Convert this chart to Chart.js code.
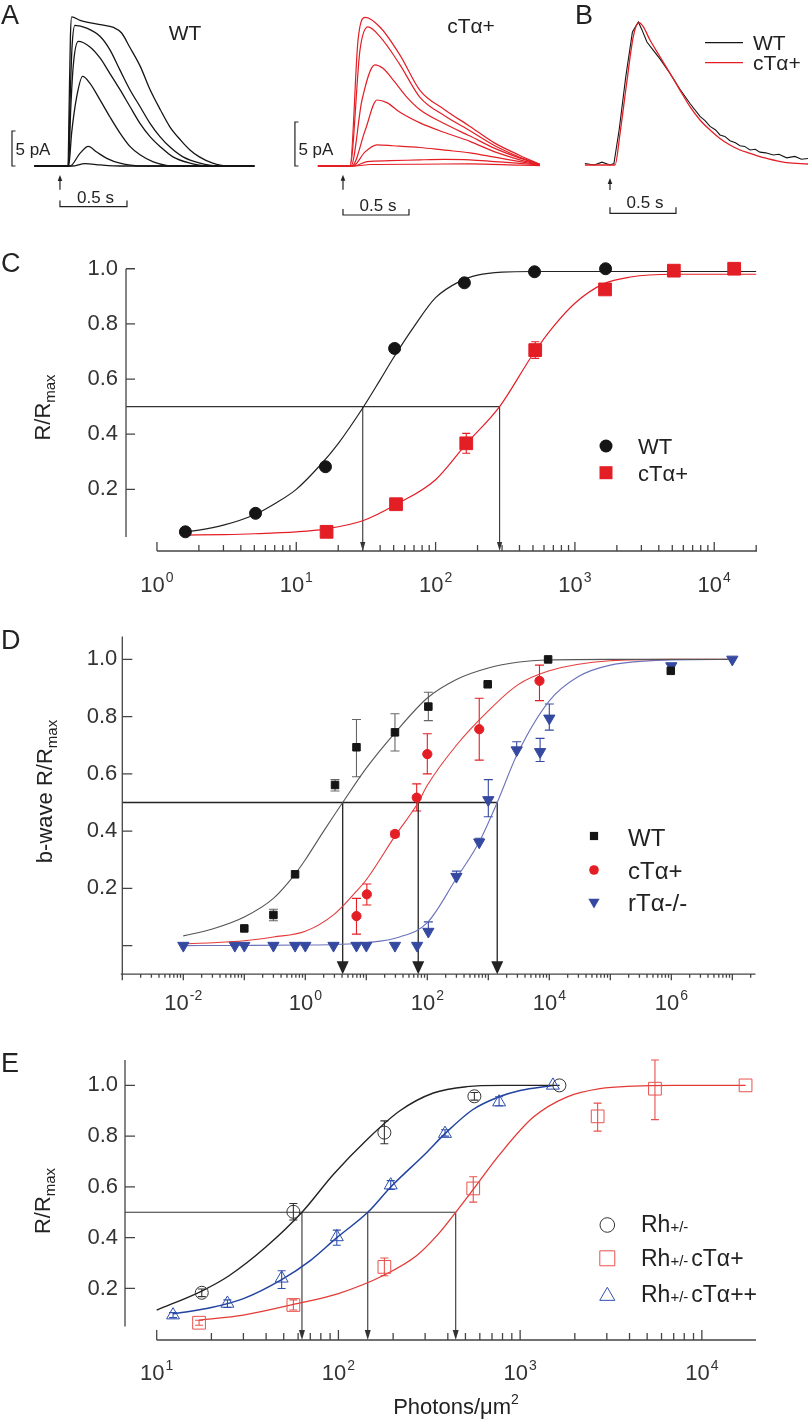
<!DOCTYPE html>
<html><head><meta charset="utf-8">
<script src="https://cdn.jsdelivr.net/npm/chart.js@4.4.1/dist/chart.umd.min.js"></script>
<style>
html,body{margin:0;padding:0;background:#fff;}
#wrap{position:relative;width:812px;height:1420px;overflow:hidden;background:#fff;}
canvas{position:absolute;left:0;}
.lbl{position:absolute;font-family:"Liberation Sans",Arial,sans-serif;font-size:27px;line-height:27px;color:#222;}
</style></head><body>
<div id="wrap">
<canvas id="cA1" width="812" height="230" style="top:0px"></canvas>
<canvas id="cA2" width="812" height="230" style="top:0px"></canvas>
<canvas id="cB" width="812" height="230" style="top:0px"></canvas>
<canvas id="cC" width="812" height="380" style="top:230px"></canvas>
<canvas id="cD" width="812" height="420" style="top:610px"></canvas>
<canvas id="cE" width="812" height="390" style="top:1030px"></canvas>
<div class="lbl" style="left:1px;top:2px">A</div>
<div class="lbl" style="left:575px;top:2px">B</div>
<div class="lbl" style="left:1px;top:250px">C</div>
<div class="lbl" style="left:1px;top:627px">D</div>
<div class="lbl" style="left:1px;top:1050px">E</div>
</div>
<script>
// ================= DATA =================
// Panel A, WT photocurrents: time (s) vs current (pA)
const aWtT1 = [-0.19, 0.06, 0.068, 0.078, 0.088, 0.15, 0.3, 0.4, 0.46, 0.52, 0.6, 0.67, 0.75, 0.82, 0.9, 0.97, 1.04, 1.14, 1.24, 1.45];
const aWtI1 = [0, 0, 8, 18.5, 21.3, 20.8, 20.2, 19.8, 19.0, 17.0, 14.2, 11.0, 8.0, 5.6, 3.7, 2.3, 1.3, 0.4, 0, 0];
const aWtT2 = [-0.19, 0.062, 0.075, 0.09, 0.112, 0.2, 0.3, 0.373, 0.448, 0.522, 0.597, 0.672, 0.746, 0.821, 0.918, 1.045, 1.17, 1.45];
const aWtI2 = [0, 0, 9, 17, 20.1, 19.7, 18.5, 16.6, 13.7, 10.9, 8.5, 6.1, 4.2, 2.7, 1.3, 0.4, 0, 0];
const aWtT3 = [-0.19, 0.064, 0.08, 0.1, 0.137, 0.224, 0.3, 0.373, 0.448, 0.522, 0.597, 0.672, 0.746, 0.843, 0.97, 1.095, 1.45];
const aWtI3 = [0, 0, 8, 14.5, 17.8, 17.0, 15.4, 13.2, 10.9, 8.5, 6.1, 4.2, 2.8, 1.3, 0.4, 0, 0];
const aWtT4 = [-0.19, 0.065, 0.087, 0.125, 0.169, 0.224, 0.3, 0.373, 0.448, 0.522, 0.597, 0.696, 0.846, 1.45];
const aWtI4 = [0, 0, 4.7, 9.9, 12.8, 11.8, 9.4, 7.0, 4.7, 2.8, 1.6, 0.6, 0, 0];
const aWtT5 = [-0.19, 0.075, 0.149, 0.211, 0.274, 0.349, 0.448, 0.597, 1.45];
const aWtI5 = [0, 0, 1.8, 2.8, 2.0, 1.1, 0.4, 0, 0];
const aWtT6 = [-0.19, 0.09, 0.187, 0.3, 0.45, 1.45];
const aWtI6 = [0, 0, 0.35, 0.15, 0, 0];

// Panel A, cTα+ photocurrents
const aCtT1 = [-0.19, 0.053, 0.114, 0.167, 0.28, 0.432, 0.583, 0.77, 0.962, 1.15, 1.34, 1.49];
const aCtI1 = [0, 0, 14.3, 16.9, 15.8, 12.6, 8.6, 6.4, 4.5, 2.6, 1.2, 0.2];
const aCtT2 = [-0.19, 0.053, 0.129, 0.189, 0.28, 0.432, 0.583, 0.77, 0.962, 1.15, 1.34, 1.49];
const aCtI2 = [0, 0, 13.2, 15.8, 14.7, 11.5, 7.8, 5.7, 4.0, 2.3, 1.0, 0.2];
const aCtT3 = [-0.19, 0.061, 0.144, 0.242, 0.303, 0.379, 0.485, 0.583, 0.77, 0.962, 1.15, 1.34, 1.49];
const aCtI3 = [0, 0, 7.5, 11.5, 11.1, 9.8, 7.8, 6.4, 4.8, 3.4, 2.0, 0.9, 0.2];
const aCtT4 = [-0.19, 0.068, 0.167, 0.258, 0.333, 0.432, 0.583, 0.77, 0.962, 1.15, 1.34, 1.49];
const aCtI4 = [0, 0, 4.0, 7.5, 7.2, 6.1, 4.9, 3.8, 2.8, 1.6, 0.7, 0.15];
const aCtT5 = [-0.19, 0.076, 0.167, 0.258, 0.379, 0.583, 0.77, 0.962, 1.15, 1.34, 1.49];
const aCtI5 = [0, 0, 1.6, 2.4, 2.3, 2.1, 1.8, 1.5, 1.0, 0.5, 0.1];
const aCtT6 = [-0.19, 0.083, 0.182, 0.356, 0.583, 0.77, 0.962, 1.15, 1.34, 1.49];
const aCtI6 = [0, 0, 0.5, 0.6, 0.7, 0.75, 0.7, 0.5, 0.3, 0.1];
const aCtT7 = [-0.19, 0.091, 0.205, 0.583, 0.962, 1.34, 1.49];
const aCtI7 = [0, 0, 0.17, 0.2, 0.25, 0.1, 0.05];

// Panel B, normalized responses
const bRedT = [-0.19, 0.038, 0.076, 0.126, 0.177, 0.22, 0.252, 0.303, 0.379, 0.455, 0.53, 0.606, 0.682, 0.758, 0.833, 0.909, 0.985, 1.061, 1.136, 1.237, 1.338, 1.5];
const bRedR = [0, 0, 0.22, 0.57, 0.9, 0.995, 0.967, 0.874, 0.757, 0.641, 0.524, 0.408, 0.315, 0.245, 0.186, 0.14, 0.105, 0.082, 0.058, 0.035, 0.016, 0.007];
const bWtT = [-0.19, -0.12, -0.06, 0, 0.03, 0.07, 0.12, 0.17, 0.215, 0.24, 0.28, 0.33, 0.38, 0.455, 0.53, 0.606, 0.682, 0.72, 0.758, 0.8, 0.833, 0.87, 0.909, 0.95, 0.985, 1.02, 1.061, 1.1, 1.136, 1.18, 1.237, 1.28, 1.338, 1.4, 1.45, 1.5];
const bWtR = [0.01, 0.0, 0.02, 0.0, 0.01, 0.25, 0.62, 0.93, 1.0, 0.95, 0.86, 0.80, 0.74, 0.64, 0.53, 0.43, 0.34, 0.31, 0.27, 0.245, 0.21, 0.20, 0.17, 0.155, 0.135, 0.13, 0.105, 0.11, 0.09, 0.085, 0.07, 0.075, 0.05, 0.06, 0.04, 0.045];

// Panel C: flash (photons/µm²) vs R/Rmax
const cWtX = [1.6, 5.1, 16.2, 50.8, 161, 513, 1660];
const cWtY = [0.046, 0.113, 0.282, 0.711, 0.949, 0.989, 1.0];
const cCtX = [16.5, 52, 166, 519, 1645, 5130, 13900];
const cCtY = [0.046, 0.146, 0.367, 0.705, 0.925, 0.993, 1.0];
const cCtHi = [null, null, 0.403, 0.735, null, null, null];
const cCtLo = [null, null, 0.331, 0.675, null, null, null];
const cWtFitX = [1.6, 2, 3, 5, 7, 10, 15, 20, 30, 40, 50, 70, 100, 150, 200, 300, 500, 1000, 20000];
const cWtFitY = [0.046, 0.052, 0.07, 0.108, 0.148, 0.2, 0.29, 0.366, 0.495, 0.597, 0.678, 0.79, 0.895, 0.955, 0.977, 0.988, 0.99, 0.99, 0.99];
const cCtFitX = [1.6, 3, 5, 10, 16, 30, 52, 100, 166, 288, 500, 700, 1000, 1600, 2500, 5000, 20000];
const cCtFitY = [0.034, 0.036, 0.039, 0.046, 0.056, 0.086, 0.145, 0.235, 0.365, 0.5, 0.69, 0.79, 0.875, 0.945, 0.97, 0.98, 0.98];
const cHalfX = [30, 288];

// Panel D: b-wave R/Rmax
const dWtX = [0.1, 0.3, 0.68, 3.07, 6.9, 29.5, 104, 977, 9560, 980000];
const dWtY = [0.06, 0.107, 0.249, 0.561, 0.693, 0.745, 0.835, 0.913, 1.0, 0.96];
const dWtHi = [null, 0.127, null, 0.58, 0.79, 0.81, 0.885, null, null, null];
const dWtLo = [null, 0.087, null, 0.54, 0.59, 0.68, 0.786, null, null, null];
const dCtX = [6.9, 10.2, 29.5, 67, 100, 710, 6900];
const dCtY = [0.103, 0.179, 0.39, 0.517, 0.669, 0.756, 0.925];
const dCtHi = [0.165, 0.215, 0.40, 0.565, 0.74, 0.864, 0.98];
const dCtLo = [0.04, 0.142, 0.38, 0.47, 0.60, 0.648, 0.856];
const dRtX = [0.01, 0.07, 0.1, 0.3, 0.68, 1.0, 2.9, 6.9, 10, 29.5, 68, 104, 300, 710, 1000, 2920, 7060, 10000, 1000000, 10000000];
const dRtY = [0, 0, 0, 0, 0, 0, 0, 0, 0, 0, 0, 0.049, 0.241, 0.361, 0.509, 0.683, 0.677, 0.794, 0.977, 1.0];
const dRtHi = [null, null, null, null, null, null, null, null, null, null, null, 0.083, 0.26, 0.375, 0.58, 0.712, 0.724, 0.844, null, null];
const dRtLo = [null, null, null, null, null, null, null, null, null, null, null, null, null, null, 0.45, null, 0.643, 0.753, null, null];
const dWtFitX = [0.01, 0.03, 0.1, 0.3, 0.68, 1, 2, 4.1, 10, 30, 100, 300, 1000, 3000, 10000, 100000, 10000000];
const dWtFitY = [0.034, 0.058, 0.10, 0.165, 0.25, 0.30, 0.40, 0.50, 0.62, 0.745, 0.865, 0.93, 0.97, 0.99, 0.998, 1.0, 1.0];
const dCtFitX = [0.01, 0.03, 0.1, 0.3, 1, 3, 6.9, 10, 30, 71, 100, 300, 1000, 3000, 10000, 100000, 1000000, 10000000];
const dCtFitY = [0.006, 0.01, 0.017, 0.03, 0.05, 0.11, 0.19, 0.23, 0.385, 0.5, 0.56, 0.7, 0.82, 0.91, 0.96, 0.995, 1.0, 1.0];
const dRtFitX = [0.01, 0.1, 1, 3, 10, 35, 100, 300, 700, 1400, 3000, 10000, 30000, 100000, 1000000, 10000000];
const dRtFitY = [0.0, 0.0005, 0.002, 0.004, 0.01, 0.03, 0.08, 0.235, 0.36, 0.5, 0.67, 0.855, 0.94, 0.98, 0.998, 1.0];
const dHalfX = [4.1, 71, 1400];

// Panel E
const eRhX = [17.7, 56.5, 179, 560, 1645];
const eRhY = [0.183, 0.502, 0.814, 0.957, 1.0];
const eRhHi = [0.198, 0.535, 0.86, 0.972, null];
const eRhLo = [0.168, 0.47, 0.77, 0.942, null];
const eCtX = [17.1, 56.5, 179, 552, 2670, 5520, 17400];
const eCtY = [0.065, 0.135, 0.285, 0.594, 0.878, 0.987, 1.0];
const eCtHi = [0.075, 0.155, 0.32, 0.64, 0.93, 1.1, null];
const eCtLo = [0.055, 0.115, 0.25, 0.54, 0.82, 0.865, null];
const eCt2X = [12.3, 24.5, 48.7, 98, 194, 386, 766, 1515];
const eCt2Y = [0.095, 0.141, 0.24, 0.403, 0.607, 0.81, 0.934, 1.0];
const eCt2Hi = [0.105, 0.155, 0.27, 0.43, 0.625, 0.825, 0.955, null];
const eCt2Lo = [0.085, 0.125, 0.2, 0.37, 0.59, 0.8, 0.92, null];
const eRhFitX = [10, 17.7, 25, 40, 63, 94, 143, 218, 333, 508, 800, 1650];
const eRhFitY = [0.115, 0.19, 0.25, 0.364, 0.5, 0.65, 0.785, 0.9, 0.97, 0.995, 1.0, 1.0];
const eCt2FitX = [12.3, 20, 30, 48.7, 70, 98, 145, 194, 300, 386, 550, 766, 1000, 1515];
const eCt2FitY = [0.1, 0.125, 0.16, 0.235, 0.31, 0.40, 0.5, 0.6, 0.73, 0.81, 0.905, 0.955, 0.98, 1.0];
const eCtFitX = [17.1, 30, 56.5, 100, 179, 270, 350, 442, 552, 776, 1183, 1803, 2754, 4200, 7000, 17400];
const eCtFitY = [0.075, 0.095, 0.137, 0.18, 0.253, 0.33, 0.41, 0.5, 0.59, 0.73, 0.875, 0.954, 0.987, 0.997, 1.0, 1.0];
const eHalfX = [63, 145, 442];

// tick labels
const yTickVals = [0.2, 0.4, 0.6, 0.8, 1.0];
const cExp = [0, 1, 2, 3, 4];
const dExp = [-2, 0, 2, 4, 6];
const eExp = [1, 2, 3, 4];

// ================= HELPERS =================
const FF = '"Liberation Sans", Arial, Helvetica, sans-serif';
const font = s => s + 'px ' + FF;
const pts = (xs, ys) => xs.map((x, i) => ({x: x, y: ys[i]}));
const W = 812;
function pad(top, H, l, r, t, b, yw) {
  return {left: l - (yw || 0), right: W - r, top: t - top, bottom: top + H - b};
}
function line(ds) { return Object.assign({showLine: true, pointRadius: 0, borderWidth: 1.2, cubicInterpolationMode: 'monotone', fill: false, clip: false}, ds); }
function markers(ds) { return Object.assign({showLine: false, borderWidth: 1}, ds); }

function drawParts(ctx, parts, x, y, align) {
  let tot = 0;
  parts.forEach(p => { ctx.font = font(p.s); tot += ctx.measureText(p.t).width + (p.gap || 0); });
  let cx = align === 'center' ? x - tot / 2 : x;
  ctx.textAlign = 'left'; ctx.textBaseline = 'alphabetic';
  parts.forEach(p => { ctx.font = font(p.s); ctx.fillText(p.t, cx, y + (p.dy || 0)); cx += ctx.measureText(p.t).width + (p.gap || 0); });
}
function drawMarker(ctx, m, x, y) {
  ctx.save(); ctx.beginPath();
  if (m.style === 'circle') ctx.arc(x, y, m.r, 0, Math.PI * 2);
  else if (m.style === 'rect') { const s = m.r * Math.SQRT1_2; ctx.rect(x - s, y - s, 2 * s, 2 * s); }
  else if (m.style === 'triangle') {
    let a = (m.rot || 0) * Math.PI / 180;
    for (let k = 0; k < 3; k++) { const xx = x + Math.sin(a) * m.r, yy = y - Math.cos(a) * m.r; if (k) ctx.lineTo(xx, yy); else ctx.moveTo(xx, yy); a += 2 * Math.PI / 3; }
    ctx.closePath();
  }
  if (m.fill) { ctx.fillStyle = m.fill; ctx.fill(); }
  if (m.stroke) { ctx.strokeStyle = m.stroke; ctx.lineWidth = m.lw || 1; ctx.stroke(); }
  ctx.restore();
}

const DECOR = {};
const decorPlugin = {
  id: 'decor',
  beforeDatasetsDraw(chart) {
    const cfg = DECOR[chart.canvas.id]; if (!cfg) return;
    const ctx = chart.ctx, xs = chart.scales.x, ys = chart.scales.y, ca = chart.chartArea;
    chart.data.datasets.forEach(ds => {
      if (!ds.errHi) return;
      ctx.save(); ctx.strokeStyle = ds.errColor || ds.borderColor; ctx.lineWidth = ds.errWidth || 1.1;
      ds.data.forEach((p, j) => {
        const hi = ds.errHi[j], lo = ds.errLo[j];
        if (hi == null && lo == null) return;
        const px = xs.getPixelForValue(p.x);
        const pt = ys.getPixelForValue(hi == null ? p.y : hi);
        const pb = ys.getPixelForValue(lo == null ? p.y : lo);
        const c = ds.errCap || 4;
        ctx.beginPath(); ctx.moveTo(px, pt); ctx.lineTo(px, pb);
        if (hi != null) { ctx.moveTo(px - c, pt); ctx.lineTo(px + c, pt); }
        if (lo != null) { ctx.moveTo(px - c, pb); ctx.lineTo(px + c, pb); }
        ctx.stroke();
      });
      ctx.restore();
    });
    if (cfg.half) {
      const h = cfg.half;
      const yp = ys.getPixelForValue(h.y), bot = ca.bottom;
      ctx.save(); ctx.strokeStyle = h.color; ctx.fillStyle = h.color; ctx.lineWidth = h.lw;
      const xr = xs.getPixelForValue(Math.max.apply(null, h.xs));
      ctx.beginPath(); ctx.moveTo(ca.left, yp); ctx.lineTo(xr, yp); ctx.stroke();
      h.xs.forEach(v => {
        const px = xs.getPixelForValue(v);
        ctx.beginPath(); ctx.moveTo(px, yp); ctx.lineTo(px, bot - h.hh + 1); ctx.stroke();
        ctx.beginPath(); ctx.moveTo(px - h.hw, bot - h.hh); ctx.lineTo(px + h.hw, bot - h.hh); ctx.lineTo(px, bot); ctx.closePath(); ctx.fill();
      });
      ctx.restore();
    }
  },
  afterDraw(chart) {
    const cfg = DECOR[chart.canvas.id]; if (!cfg) return;
    const ctx = chart.ctx, xs = chart.scales.x, ys = chart.scales.y, ca = chart.chartArea;
    const T = cfg.top;
    ctx.save();
    ctx.fillStyle = '#222';
    if (cfg.axes) {
      const a = cfg.axes;
      ctx.strokeStyle = a.color; ctx.lineWidth = a.lw;
      const yx = ca.left;
      ctx.beginPath();
      ctx.moveTo(yx, ys.getPixelForValue(a.yFrom)); ctx.lineTo(yx, ys.getPixelForValue(a.yTo));
      a.yTicks.forEach(v => { const p = ys.getPixelForValue(v); ctx.moveTo(yx, p); ctx.lineTo(yx + a.yTickLen, p); });
      const xy = ca.bottom;
      ctx.moveTo(xs.getPixelForValue(a.xFrom) + (a.xDx0 || 0), xy); ctx.lineTo(xs.getPixelForValue(a.xTo), xy);
      const d0 = Math.floor(Math.log10(a.xFrom)), d1 = Math.ceil(Math.log10(a.xTo));
      for (let d = d0; d <= d1; d++) {
        for (let m = 1; m <= 9; m++) {
          const v = m * Math.pow(10, d);
          if (v < a.xFrom * 0.999 || v > a.xTo * 1.001) continue;
          const p = xs.getPixelForValue(v);
          const len = m === 1 ? a.majLen : a.minLen;
          ctx.moveTo(p, xy); ctx.lineTo(p, xy + a.xDir * len);
        }
      }
      ctx.stroke();
      ctx.fillStyle = '#333';
      a.xLabels.forEach(e => {
        const p = xs.getPixelForValue(Math.pow(10, e));
        drawParts(ctx, [{t: '10', s: a.lblSize, gap: 1}, {t: e < 0 ? '-' + Math.abs(e) : String(e), s: a.supSize, dy: -a.supDy}], p, xy + a.lblDy, 'center');
      });
    }
    ctx.fillStyle = '#222';
    if (cfg.ytitle) {
      const t = cfg.ytitle;
      ctx.save(); ctx.translate(t.x, t.y - T); ctx.rotate(-Math.PI / 2);
      drawParts(ctx, t.parts, 0, 0, 'center');
      ctx.restore();
    }
    if (cfg.xtitle) { drawParts(ctx, cfg.xtitle.parts, cfg.xtitle.x, cfg.xtitle.y - T, 'center'); }
    if (cfg.legend) {
      cfg.legend.forEach(it => {
        if (it.marker) drawMarker(ctx, it.marker, it.mx, it.my - T);
        if (it.line) { ctx.save(); ctx.strokeStyle = it.line.color; ctx.lineWidth = 1.3; ctx.beginPath(); ctx.moveTo(it.line.x0, it.my - T); ctx.lineTo(it.line.x1, it.my - T); ctx.stroke(); ctx.restore(); }
        ctx.fillStyle = '#222';
        drawParts(ctx, it.parts, it.tx, it.ty - T, 'left');
      });
    }
    if (cfg.texts) cfg.texts.forEach(t => drawParts(ctx, t.parts, t.x, t.y - T, 'center'));
    ctx.strokeStyle = '#222'; ctx.lineWidth = 1.2; ctx.fillStyle = '#222';
    if (cfg.vbar) {
      const v = cfg.vbar, px = xs.getPixelForValue(v.x), p0 = ys.getPixelForValue(v.y0), p1 = ys.getPixelForValue(v.y1);
      ctx.beginPath(); ctx.moveTo(px + v.tick, p1); ctx.lineTo(px, p1); ctx.lineTo(px, p0); ctx.lineTo(px + v.tick, p0); ctx.stroke();
      drawParts(ctx, [{t: v.text, s: 17}], px + v.tdx, p0 + v.tdy, 'left');
    }
    if (cfg.hbar) {
      const h = cfg.hbar, py = ys.getPixelForValue(h.y), p0 = xs.getPixelForValue(h.x0), p1 = xs.getPixelForValue(h.x1);
      ctx.beginPath(); ctx.moveTo(p0, py - h.tick); ctx.lineTo(p0, py); ctx.lineTo(p1, py); ctx.lineTo(p1, py - h.tick); ctx.stroke();
      drawParts(ctx, [{t: h.text, s: 17}], (p0 + p1) / 2 + 2, py + h.tdy, 'center');
    }
    if (cfg.arrow) {
      const a = cfg.arrow, px = xs.getPixelForValue(a.x), p0 = ys.getPixelForValue(a.y0), p1 = ys.getPixelForValue(a.y1);
      ctx.beginPath(); ctx.moveTo(px, p0); ctx.lineTo(px, p1 + 5); ctx.stroke();
      ctx.beginPath(); ctx.moveTo(px - 2.3, p1 + 6); ctx.lineTo(px + 2.3, p1 + 6); ctx.lineTo(px, p1); ctx.closePath(); ctx.fill();
    }
    ctx.restore();
  }
};

function baseOptions(padding, xScale, yScale) {
  return {
    responsive: false, animation: false, devicePixelRatio: 1,
    layout: {padding: padding},
    plugins: {legend: {display: false}, tooltip: {enabled: false}},
    scales: {x: xScale, y: yScale}
  };
}
function hiddenLinear(min, max) { return {type: 'linear', display: false, min: min, max: max}; }
function yAxisVisible(min, max, padPx) {
  return {
    type: 'linear', position: 'left', min: min, max: max, display: true,
    grid: {display: false, drawTicks: false}, border: {display: false},
    ticks: {stepSize: 0.2, includeBounds: false, padding: padPx, color: '#333', font: {family: FF, size: 22},
      callback: v => (v > 0.05 ? v.toFixed(1) : '')},
    afterFit: s => { s.width = 60; s.paddingTop = 0; s.paddingBottom = 0; }
  };
}
function logX(min, max) { return {type: 'logarithmic', display: false, min: min, max: max}; }

function make(id, datasets, options) {
  return new Chart(document.getElementById(id), {type: 'scatter', data: {datasets: datasets}, options: options, plugins: [decorPlugin]});
}

// ================= PANEL A (WT) =================
const BLK = '#151515', RED = '#e31e25';
DECOR.cA1 = {top: 0,
  vbar: {x: -0.358, y0: 0, y1: 5, tick: 3.5, text: '5 pA', tdx: 3.5, tdy: -11},
  hbar: {y: -5.8, x0: 0, x1: 0.5, tick: 6, text: '0.5 s', tdy: -4},
  arrow: {x: 0, y0: -3.4, y1: -1.3},
  texts: [{x: 185, y: 40, parts: [{t: 'WT', s: 21}]}]};
make('cA1', [
  [aWtT1, aWtI1], [aWtT2, aWtI2], [aWtT3, aWtI3], [aWtT4, aWtI4], [aWtT5, aWtI5], [aWtT6, aWtI6]
].map(p => line({data: pts(p[0], p[1]), borderColor: BLK, borderWidth: 1.3})),
  baseOptions(pad(0, 230, 34.5, 254.3, 12, 168.1), hiddenLinear(-0.19, 1.45), hiddenLinear(-0.3, 22)));

// ================= PANEL A (cTα+) =================
DECOR.cA2 = {top: 0,
  vbar: {x: -0.364, y0: 0, y1: 5, tick: 3.5, text: '5 pA', tdx: 3.5, tdy: -11},
  hbar: {y: -5.57, x0: 0, x1: 0.5, tick: 6, text: '0.5 s', tdy: -4},
  arrow: {x: 0, y0: -2.7, y1: -1.0},
  texts: [{x: 471, y: 32.5, parts: [{t: 'cTα+', s: 21}]}]};
make('cA2', [
  [aCtT1, aCtI1], [aCtT2, aCtI2], [aCtT3, aCtI3], [aCtT4, aCtI4], [aCtT5, aCtI5], [aCtT6, aCtI6], [aCtT7, aCtI7]
].map(p => line({data: pts(p[0], p[1]), borderColor: RED, borderWidth: 1.2})),
  baseOptions(pad(0, 230, 317.9, 541, 3.2, 168.64), hiddenLinear(-0.19, 1.5), hiddenLinear(-0.3, 18.5)));

// ================= PANEL B =================
DECOR.cB = {top: 0,
  hbar: {y: -0.338, x0: 0, x1: 0.5, tick: 6, text: '0.5 s', tdy: -5},
  arrow: {x: 0, y0: -0.175, y1: -0.091},
  legend: [
    {line: {x0: 705, x1: 743, color: BLK}, my: 42.7, tx: 753, ty: 50, parts: [{t: 'WT', s: 21}]},
    {line: {x0: 705, x1: 743, color: RED}, my: 62.7, tx: 753, ty: 70, parts: [{t: 'cTα+', s: 21}]}
  ]};
make('cB', [
  line({data: pts(bRedT, bRedR), borderColor: RED, borderWidth: 1.3}),
  line({data: pts(bWtT, bWtR), borderColor: BLK, borderWidth: 1.1, cubicInterpolationMode: 'default', tension: 0})
], baseOptions(pad(0, 230, 584.9, 808, 14.85, 167.86), hiddenLinear(-0.19, 1.5), hiddenLinear(-0.02, 1.05)));

// ================= PANEL C =================
DECOR.cC = {top: 230,
  axes: {color: '#444', lw: 1.3, yFrom: 0.027, yTo: 1.0, yTicks: yTickVals, yTickLen: 9,
    xFrom: 1, xTo: Math.pow(10, 4.307), xDir: -1, majLen: 9, minLen: 6,
    xLabels: cExp, lblSize: 22, supSize: 14, supDy: 10, lblDy: 41},
  half: {y: 0.5, xs: cHalfX, color: '#333', lw: 1.1, hw: 2.6, hh: 9},
  ytitle: {x: 50, y: 407.5, parts: [{t: 'R/R', s: 22}, {t: 'max', s: 15, dy: 5}]},
  legend: [
    {marker: {style: 'circle', r: 6.5, fill: BLK}, mx: 606, my: 446, tx: 638, ty: 454, parts: [{t: 'WT', s: 22}]},
    {marker: {style: 'rect', r: 9.2, fill: RED}, mx: 606, my: 472.7, tx: 638, ty: 480.5, parts: [{t: 'cTα+', s: 22}]}
  ]};
make('cC', [
  markers({data: pts(cWtX, cWtY), pointStyle: 'circle', pointRadius: 6, backgroundColor: BLK, borderColor: BLK}),
  markers({data: pts(cCtX, cCtY), pointStyle: 'rect', pointRadius: 9, backgroundColor: RED, borderColor: RED,
    errHi: cCtHi, errLo: cCtLo, errColor: RED, errCap: 4}),
  line({data: pts(cWtFitX, cWtFitY), borderColor: '#222', borderWidth: 1.2}),
  line({data: pts(cCtFitX, cCtFitY), borderColor: RED, borderWidth: 1.2})
], baseOptions(pad(230, 380, 126, 757, 252.2, 551, 60), logX(Math.pow(10, -0.2222), Math.pow(10, 4.307)), yAxisVisible(-0.0236, 1.06, 8)));

// ================= PANEL D =================
const DBLUE = '#3549a0';
DECOR.cD = {top: 610,
  axes: {color: '#444', lw: 1.3, yFrom: -0.1, yTo: 1.08, yTicks: [0].concat(yTickVals), yTickLen: 10,
    xFrom: 0.001, xTo: Math.pow(10, 7.38), xDx0: -1.5, xDir: 1, majLen: 6, minLen: 3.5,
    xLabels: dExp, lblSize: 22, supSize: 14, supDy: 10, lblDy: 36},
  half: {y: 0.5, xs: dHalfX, color: '#222', lw: 1.3, hw: 6, hh: 13},
  ytitle: {x: 52, y: 791.5, parts: [{t: 'b-wave R/R', s: 22}, {t: 'max', s: 15, dy: 5}]},
  legend: [
    {marker: {style: 'rect', r: 5.8, fill: BLK}, mx: 594, my: 836, tx: 628, ty: 846, parts: [{t: 'WT', s: 24}]},
    {marker: {style: 'circle', r: 4.8, fill: RED}, mx: 594, my: 870, tx: 628, ty: 878.6, parts: [{t: 'cTα+', s: 24}]},
    {marker: {style: 'triangle', r: 6.5, rot: 180, fill: DBLUE}, mx: 594, my: 902, tx: 628, ty: 910.6, parts: [{t: 'rTα-/-', s: 24}]}
  ]};
make('cD', [
  markers({data: pts(dWtX, dWtY), pointStyle: 'rect', pointRadius: 5.3, backgroundColor: BLK, borderColor: BLK,
    errHi: dWtHi, errLo: dWtLo, errColor: '#666', errCap: 4.5}),
  markers({data: pts(dCtX, dCtY), pointStyle: 'circle', pointRadius: 4.6, backgroundColor: RED, borderColor: RED,
    errHi: dCtHi, errLo: dCtLo, errColor: RED, errCap: 4.5}),
  markers({data: pts(dRtX, dRtY), pointStyle: 'triangle', pointRotation: 180, pointRadius: 6.5, backgroundColor: DBLUE, borderColor: DBLUE,
    errHi: dRtHi, errLo: dRtLo, errColor: DBLUE, errCap: 4.5}),
  line({data: pts(dWtFitX, dWtFitY), borderColor: '#555', borderWidth: 1.1}),
  line({data: pts(dCtFitX, dCtFitY), borderColor: '#e43a3a', borderWidth: 1.1}),
  line({data: pts(dRtFitX, dRtFitY), borderColor: '#6a72bb', borderWidth: 1.1})
], baseOptions(pad(610, 420, 122.3, 755.5, 636.5, 974.2, 60), logX(0.001, Math.pow(10, 7.38)), yAxisVisible(-0.1, 1.08, 5)));

// ================= PANEL E =================
const EBLK = '#333', ERED = '#e8524d', EBLUE = '#2f4fae';
DECOR.cE = {top: 1030,
  axes: {color: '#444', lw: 1.3, yFrom: 0.05, yTo: 1.1, yTicks: yTickVals, yTickLen: 10,
    xFrom: 10, xTo: Math.pow(10, 4.298), xDir: -1, majLen: 10, minLen: 7,
    xLabels: eExp, lblSize: 22, supSize: 14, supDy: 10, lblDy: 40},
  half: {y: 0.5, xs: eHalfX, color: '#333', lw: 1.1, hw: 3, hh: 10},
  ytitle: {x: 50, y: 1201, parts: [{t: 'R/R', s: 22}, {t: 'max', s: 15, dy: 5}]},
  xtitle: {x: 456, y: 1414, parts: [{t: 'Photons/μm', s: 22}, {t: '2', s: 14, dy: -10}]},
  legend: [
    {marker: {style: 'circle', r: 7.3, stroke: EBLK, lw: 1}, mx: 607.3, my: 1225, tx: 641, ty: 1232,
      parts: [{t: 'Rh', s: 23}, {t: '+/-', s: 15}]},
    {marker: {style: 'rect', r: 10.6, stroke: ERED, lw: 1}, mx: 607.3, my: 1258.3, tx: 641, ty: 1266,
      parts: [{t: 'Rh', s: 23}, {t: '+/-', s: 15, gap: 3}, {t: 'cTα+', s: 23}]},
    {marker: {style: 'triangle', r: 8.7, stroke: EBLUE, lw: 1}, mx: 607.3, my: 1296, tx: 641, ty: 1302,
      parts: [{t: 'Rh', s: 23}, {t: '+/-', s: 15, gap: 3}, {t: 'cTα++', s: 23}]}
  ]};
make('cE', [
  markers({data: pts(eRhX, eRhY), pointStyle: 'circle', pointRadius: 6.5, backgroundColor: 'rgba(255,255,255,0)', borderColor: EBLK,
    errHi: eRhHi, errLo: eRhLo, errColor: EBLK, errCap: 4}),
  markers({data: pts(eCtX, eCtY), pointStyle: 'rect', pointRadius: 9, backgroundColor: 'rgba(255,255,255,0)', borderColor: ERED,
    errHi: eCtHi, errLo: eCtLo, errColor: ERED, errCap: 4}),
  markers({data: pts(eCt2X, eCt2Y), pointStyle: 'triangle', pointRadius: 7.5, backgroundColor: 'rgba(255,255,255,0)', borderColor: EBLUE,
    errHi: eCt2Hi, errLo: eCt2Lo, errColor: EBLUE, errCap: 4}),
  line({data: pts(eRhFitX, eRhFitY), borderColor: '#222', borderWidth: 1.4}),
  line({data: pts(eCt2FitX, eCt2FitY), borderColor: '#2244a0', borderWidth: 1.5}),
  line({data: pts(eCtFitX, eCtFitY), borderColor: '#e33a35', borderWidth: 1.3})
], baseOptions(pad(1030, 390, 125, 756, 1060, 1340, 60), logX(Math.pow(10, 0.8255), Math.pow(10, 4.298)), yAxisVisible(-0.003, 1.1, 7)));
</script>
</body></html>
